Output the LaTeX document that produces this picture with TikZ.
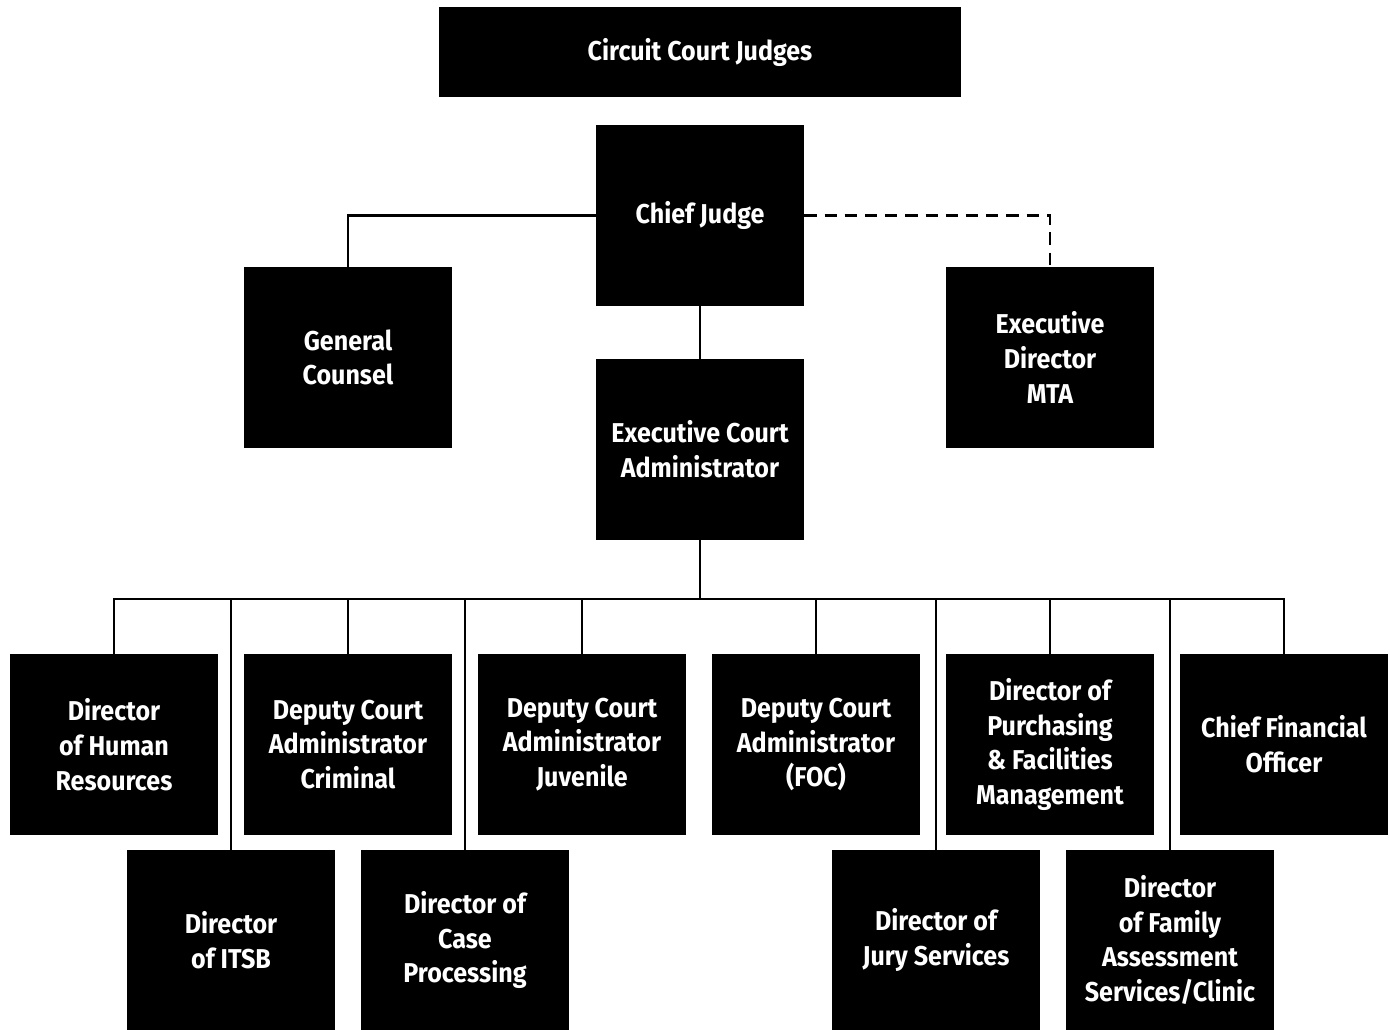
\documentclass[tikz,border=0pt]{standalone}
\usepackage{fontspec}
\setmainfont{Fira Sans}[FakeStretch=0.92]
\tikzset{
  post/.style={fill=black,text=white,inner sep=0pt,align=center,
    font=\bfseries\fontsize{15.5}{19.8}\selectfont,
    minimum width=4.16cm,minimum height=3.62cm},
  link/.style={line width=1.4pt},
}
\begin{document}
\begin{tikzpicture}[x=0.02cm,y=-0.02cm]
		\useasboundingbox (0,0) rectangle (1390,1030);
		% top of the chart
		\node[post,minimum width=10.44cm,minimum height=1.8cm] (judges) at (700,52) {Circuit Court Judges};
		\node[post] (cj) at (700,215.5) {Chief Judge};
		\node[post] (gc) at (348,357.5) {General\\Counsel};
		\node[post] (mta) at (1050,357.5) {Executive\\Director\\MTA};
		\node[post] (eca) at (700,449.5) {Executive Court\\Administrator};
		
		% first row
		\node[post] (hr) at (114,744.5) {Director\\of Human\\Resources};
		\node[post] (dcrim) at (348,744.5) {Deputy Court\\Administrator\\Criminal};
		\node[post] (djuv) at (582,744.5) {Deputy Court\\Administrator\\Juvenile};
		\node[post] (dfoc) at (816,744.5) {Deputy Court\\Administrator\\(FOC)};
		\node[post] (purch) at (1050,744.5) {Director of\\Purchasing\\\& Facilities\\Management};
		\node[post] (cfo) at (1284,744.5) {Chief Financial\\Officer};
		
		% second row
		\node[post,minimum height=3.6cm] (itsb) at (231,940) {Director\\of ITSB};
		\node[post,minimum height=3.6cm] (case) at (465,940) {Director of\\Case\\Processing};
		\node[post,minimum height=3.6cm] (jury) at (936,940) {Director of\\Jury Services};
		\node[post,minimum height=3.6cm] (fam) at (1170,940) {Director\\of Family\\Assessment\\Services/Clinic};
		
		\coordinate (bus) at (700,599);
		
		\draw[link] (cj.west) -| (gc.north);
		\draw[link,dash pattern=on 7pt off 4.5pt] (cj.east) -| (mta.north);
		\draw[link] (cj.south) -- (eca.north);
		\draw[link] (eca.south) -- (bus);
		\foreach \c in {hr,itsb,dcrim,case,djuv,dfoc,jury,purch,fam,cfo}
			\draw[link] (bus) -| (\c.north);
	\end{tikzpicture}
\end{document}
